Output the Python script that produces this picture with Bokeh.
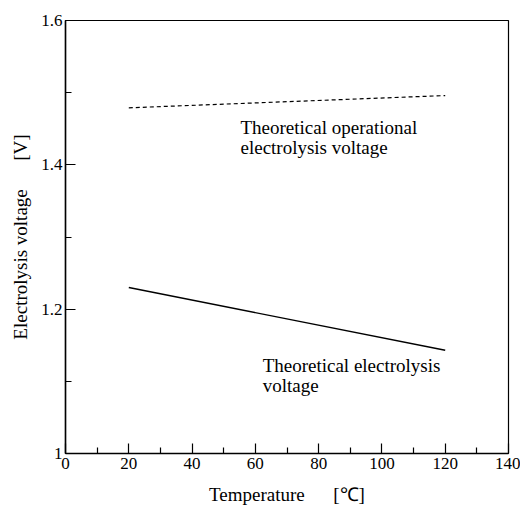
from bokeh.plotting import figure
from bokeh.models import FixedTicker, Label
from bokeh.embed import file_html
from bokeh.resources import INLINE

# Data
temperature = [20, 120]
theoretical_voltage = [1.230, 1.143]
operational_voltage = [1.479, 1.496]
x_major = [0, 20, 40, 60, 80, 100, 120, 140]
x_minor = [10, 30, 50, 70, 90, 110, 130]
y_major = [1.0, 1.2, 1.4, 1.6]
y_minor = [1.1, 1.3, 1.5]
y_labels = {1.0: "1", 1.2: "1.2", 1.4: "1.4", 1.6: "1.6"}

FONT = "serif"
NB = "\u00a0"

p = figure(width=520, height=507, x_range=(0, 140), y_range=(1.0, 1.6),
           output_backend="svg", toolbar_location=None,
           min_border_left=65, min_border_right=12, min_border_top=20, min_border_bottom=54)
p.grid.visible = False
p.outline_line_color = "black"
p.outline_line_width = 1.2
p.background_fill_color = "white"
p.border_fill_color = "white"

p.line(temperature, operational_voltage, line_color="black", line_width=1.2, line_dash="4 3")
p.line(temperature, theoretical_voltage, line_color="black", line_width=1.4)

p.xaxis.ticker = FixedTicker(ticks=x_major, minor_ticks=x_minor)
p.yaxis.ticker = FixedTicker(ticks=y_major, minor_ticks=y_minor)
p.yaxis.major_label_overrides = y_labels

for ax in (p.xaxis[0], p.yaxis[0]):
    ax.axis_line_color = "black"
    ax.axis_line_width = 1.5
    ax.major_tick_in = 10
    ax.major_tick_out = 0
    ax.minor_tick_in = 6
    ax.minor_tick_out = 0
    ax.major_tick_line_color = "black"
    ax.minor_tick_line_color = "black"
    ax.major_tick_line_width = 1.2
    ax.minor_tick_line_width = 1.2
    ax.major_label_text_font = FONT
    ax.major_label_text_font_size = "17px"
    ax.major_label_text_color = "black"
    ax.axis_label_text_font = FONT
    ax.axis_label_text_font_size = "19px"
    ax.axis_label_text_font_style = "normal"
    ax.axis_label_text_color = "black"

p.xaxis.axis_label = "Temperature" + NB * 6 + "[℃]"
p.xaxis.major_label_standoff = 4
p.xaxis.axis_label_standoff = 12
p.yaxis.axis_label = "Electrolysis voltage" + NB * 6 + "[V]"
p.yaxis.major_label_standoff = 3
p.yaxis.axis_label_standoff = 7

ann = [
    ("Theoretical operational", 55.3, 1.452),
    ("electrolysis voltage", 55.3, 1.424),
    ("Theoretical electrolysis", 62.3, 1.122),
    ("voltage", 62.3, 1.094),
]
for txt, x, y in ann:
    p.add_layout(Label(x=x, y=y, text=txt, text_font=FONT, text_font_size="19px",
                       text_baseline="middle", text_align="left", text_color="black"))

open("out.html", "w").write(file_html(p, INLINE))
